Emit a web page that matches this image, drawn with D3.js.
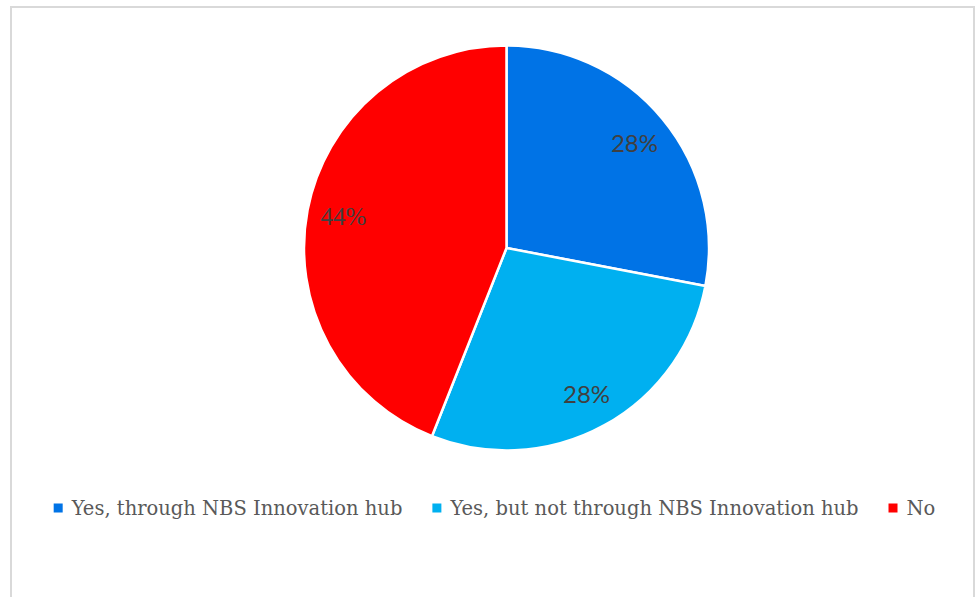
<!DOCTYPE html>
<html>
<head>
<meta charset="utf-8">
<script src="https://cdn.jsdelivr.net/npm/d3@7"></script>
<style>
  html, body { margin: 0; padding: 0; background: #fff; }
  svg { display: block; }
</style>
</head>
<body>
<svg id="chart" width="975" height="597"></svg>
<script>
// Survey answers and their shares (percent)
const categories = [
  "Yes, through NBS Innovation hub",
  "Yes, but not through NBS Innovation hub",
  "No"
];
const values = [28, 28, 44];
const labels = ["28%", "28%", "44%"];
const colors = ["#0073E6", "#00B0F0", "#FF0000"];
const labelFonts = ["Lato, 'Open Sans', sans-serif", "Lato, 'Open Sans', sans-serif", "'Liberation Serif', serif"];

const svg = d3.select("#chart");
const W = 975, H = 597;

// chart area frame
svg.append("rect")
  .attr("x", 11).attr("y", 7)
  .attr("width", 963).attr("height", 620)
  .attr("fill", "#fff")
  .attr("stroke", "#d9d9d9")
  .attr("stroke-width", 2);

const cx = 506.5, cy = 248, radius = 202.5;

const data = categories.map((c, i) => ({ name: c, value: values[i], label: labels[i], i }));

const pie = d3.pie().value(d => d.value).sort(null);
const arcs = pie(data);

const arc = d3.arc().innerRadius(0).outerRadius(radius);
const labelArc = d3.arc().innerRadius(radius * 0.82).outerRadius(radius * 0.82);

const g = svg.append("g").attr("transform", `translate(${cx},${cy})`);

g.selectAll("path.slice")
  .data(arcs)
  .join("path")
  .attr("class", "slice")
  .attr("d", arc)
  .attr("fill", d => colors[d.data.i])
  .attr("stroke", "#fff")
  .attr("stroke-width", 2.5)
  .attr("stroke-linejoin", "round");

g.selectAll("text.pct")
  .data(arcs)
  .join("text")
  .attr("class", "pct")
  .attr("transform", d => `translate(${labelArc.centroid(d)})`)
  .attr("text-anchor", "middle")
  .attr("dominant-baseline", "central")
  .attr("font-family", d => labelFonts[d.data.i])
  .attr("font-size", d => d.data.i === 2 ? 25 : 24)
  .attr("fill", "#404040")
  .text(d => d.data.label);

// legend row
const legend = svg.append("g").attr("class", "legend");
const legendY = 508;
const sw = 9, gapSwatch = 9, gapItem = 30;

const items = legend.selectAll("g.item")
  .data(data)
  .join("g")
  .attr("class", "item");

items.append("rect")
  .attr("width", sw).attr("height", sw)
  .attr("y", legendY - sw / 2)
  .attr("fill", d => colors[d.i]);

items.append("text")
  .attr("x", sw + gapSwatch)
  .attr("y", legendY)
  .attr("dominant-baseline", "central")
  .attr("font-family", "'DejaVu Serif', serif")
  .attr("font-size", 19.5)
  .attr("fill", "#595959")
  .text(d => d.name);

// lay the items out side by side, centred under the chart
const widths = [];
items.each(function () {
  widths.push(sw + gapSwatch + d3.select(this).select("text").node().getComputedTextLength());
});
const total = d3.sum(widths) + gapItem * (widths.length - 1);
let x = 494.5 - total / 2;
items.attr("transform", (d, i) => {
  const t = `translate(${x},0)`;
  x += widths[i] + gapItem;
  return t;
});
</script>
</body>
</html>
